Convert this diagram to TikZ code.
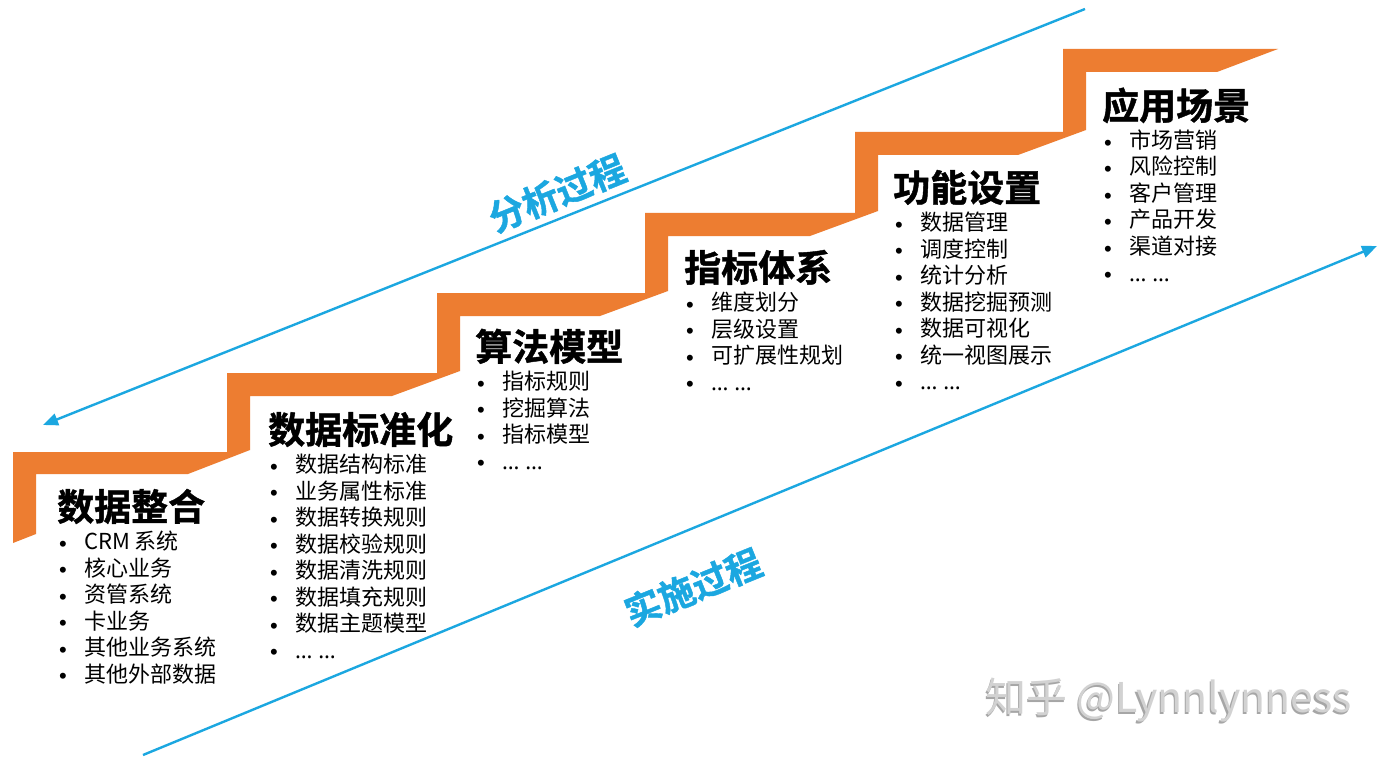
\documentclass[tikz,border=0pt]{standalone}
\usepackage{fontspec}
\setmainfont{Noto Sans CJK SC}[BoldFont={Noto Sans CJK SC Bold},BoldFeatures={FakeBold=1.2}]
\newfontfamily\latinf{Noto Sans}
\newfontfamily\bulletf{Liberation Sans}
\usetikzlibrary{arrows.meta}
\definecolor{stairorange}{RGB}{237,125,49}
\definecolor{flowcyan}{RGB}{27,167,224}
\tikzset{
  steptitle/.style={anchor=west, inner sep=0pt, font=\fontsize{37}{40}\selectfont\bfseries, text height=0.8em, text depth=0.1em},
  stepitem/.style={anchor=west, inner sep=0pt, font=\fontsize{22}{26}\selectfont, text height=0.8em, text depth=0.1em},
  stepbullet/.style={anchor=center, inner sep=0pt, font=\bulletf\fontsize{22}{26}\selectfont},
  flowarrow/.style={draw=flowcyan, line width=2.4pt, -{Triangle[length=15pt,width=12pt]}},
  flowlabel/.style={inner sep=0pt, text=flowcyan, rotate=22, font=\fontsize{36}{38}\selectfont\bfseries},
  watermark/.style={anchor=west, inner sep=0pt, font=\fontsize{41}{44}\selectfont},
}
\newcommand\mkstep[5]{%
  \node[steptitle] (t#1) at (#2,#3) {#4};
  \foreach \t [count=\i] in {#5} {
    \node[stepbullet] (b#1-\i) at ({#2+6},{#3+29+26.5*(\i-1)}) {•};
    \node[stepitem] (i#1-\i) at ({#2+27},{#3+29+26.5*(\i-1)}) {\t};
  }%
}
\begin{document}
\begin{tikzpicture}[x=1pt,y=-1pt]
\useasboundingbox (0,0) rectangle (1389,762);
\fill[white] (0,0) rectangle (1389,762);
% staircase band
\fill[stairorange] (13,543) -- (13,452) -- (227,452) -- (227,373) -- (437,373) -- (437,293)
  -- (645,293) -- (645,213) -- (855,213) -- (855,132) -- (1063,132) -- (1063,49)
  -- (1278,49) -- (1217,72) -- (1086,72) -- (1086,130) -- (1018,155) -- (878,155)
  -- (878,211) -- (810,236) -- (668,236) -- (668,291) -- (600,316) -- (460,316)
  -- (460,371) -- (392,396) -- (250,396) -- (250,450) -- (188,474) -- (36,474)
  -- (36,534) -- cycle;
% arrows
\coordinate (upS) at (1085,9);
\coordinate (upE) at (43,425);
\coordinate (loS) at (143,755);
\coordinate (loE) at (1377,246);
\draw[flowarrow] (upS) -- (upE);
\draw[flowarrow] (loS) -- (loE);
\node[flowlabel] (analysis) at (557,193) {分析过程};
\node[flowlabel] (implement) at (693,587) {实施过程};
% steps
\mkstep{1}{57}{517}{数据整合}{CRM 系统,核心业务,资管系统,卡业务,其他业务系统,其他外部数据}
\mkstep{2}{268}{440}{数据标准化}{数据结构标准,业务属性标准,数据转换规则,数据校验规则,数据清洗规则,数据填充规则,数据主题模型,{\latinf … …}}
\mkstep{3}{475}{357}{算法模型}{指标规则,挖掘算法,指标模型,{\latinf … …}}
\mkstep{4}{684}{278}{指标体系}{维度划分,层级设置,可扩展性规划,{\latinf … …}}
\mkstep{5}{893}{198}{功能设置}{数据管理,调度控制,统计分析,数据挖掘预测,数据可视化,统一视图展示,{\latinf … …}}
\mkstep{6}{1102}{116}{应用场景}{市场营销,风险控制,客户管理,产品开发,渠道对接,{\latinf … …}}
% watermark
\node[watermark, text=gray!70] (wmshade) at (984,702) {知乎 @Lynnlynness};
\node[watermark, text=gray!35] (wm) at (985.5,700.5) {知乎 @Lynnlynness};
\end{tikzpicture}
\end{document}
